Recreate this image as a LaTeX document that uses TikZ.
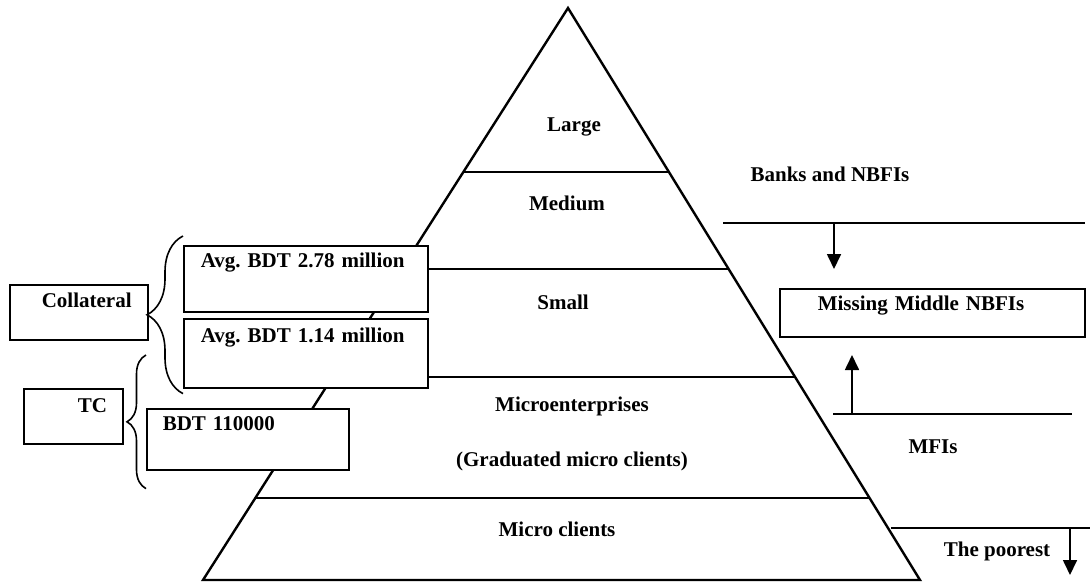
\documentclass[tikz,border=0pt]{standalone}
\usepackage{fontspec}
\setmainfont{Liberation Serif}
\usetikzlibrary{arrows.meta, calc, decorations.pathreplacing}

\begin{document}
\begin{tikzpicture}[
    x=1pt, y=-1pt,
    font=\fontsize{21}{25}\selectfont\bfseries\frenchspacing,
    edge/.style={line width=2.4pt, line join=miter},
    sep/.style={line width=1.8pt},
    lbl/.style={anchor=base, inner sep=0pt},
    tbox/.style={draw, fill=white, line width=1.6pt, anchor=north west, inner sep=0pt, align=left},
    arr/.style={line width=1.7pt, -{Triangle[length=15pt,width=14pt]}},
    curly/.style={line width=1.6pt, decorate, decoration={brace, amplitude=#1}}
  ]
    \useasboundingbox (0,0) rectangle (1090,582);

    % pyramid
    \coordinate (top) at (568,8);
    \coordinate (bl) at (203,580);
    \coordinate (br) at (920,580);
    \draw[edge] (bl) -- (top) -- (br) -- cycle;
    \foreach \t in {0.2867, 0.4563, 0.6451, 0.8566}
      \draw[sep] ($(top)!\t!(bl)$) -- ($(top)!\t!(br)$);

    \node[lbl] (large) at (574,131) {Large};
    \node[lbl] (medium) at (567,210) {Medium};
    \node[lbl] (small) at (563,309) {Small};
    \node[lbl] (micro) at (572,411) {Microenterprises};
    \node[lbl] (grad) at (572,466) {(Graduated micro clients)};
    \node[lbl] (mclients) at (557,536) {Micro clients};

    % loan size boxes
    \node[tbox, text width=244pt, text height=22pt, text depth=44pt] (avgA) at (183,245) {\hspace*{17pt}Avg. BDT 2.78 million};
    \node[tbox, text width=244pt, text height=24pt, text depth=45pt] (avgB) at (183,318) {\hspace*{17pt}Avg. BDT 1.14 million};
    \node[tbox, text width=202pt, text height=22pt, text depth=39pt] (bdt) at (146,408) {\hspace*{16pt}BDT 110000};
    \node[tbox, text width=138pt, text height=23pt, text depth=32pt] (coll) at (9,284) {\hspace*{32pt}Collateral};
    \node[tbox, text width=99pt, text height=24pt, text depth=31pt] (tc) at (23,388) {\hspace*{54pt}TC};

    % braces
    \coordinate (cb1) at ($(avgB.south west)+(0,5)$);
    \coordinate (cb2) at ($(avgA.north west)+(0,-9)$);
    \draw[curly=36pt] (cb1) -- (cb2);
    \coordinate (tb1) at ($(bdt.south west)+(0,18)$);
    \coordinate (tb2) at ($(bdt.north west)+(0,-53)$);
    \draw[curly=19pt] (tb1) -- (tb2);

    % institutions
    \node[lbl] (banks) at (830,181) {Banks and NBFIs};
    \node[tbox, text width=305pt, text height=22pt, text depth=26pt] (miss) at (779,288) {\hspace*{38pt}Missing Middle NBFIs};
    \node[lbl] (mfi) at (933,453) {MFIs};
    \node[lbl] (poor) at (997,556) {The poorest};

    \coordinate (bkL) at (723,223);
    \coordinate (bkR) at (1085,223);
    \coordinate (bkA) at (834,223);
    \coordinate (bkB) at (834,269);
    \draw[sep] (bkL) -- (bkR);
    \draw[arr] (bkA) -- (bkB);

    \coordinate (mfL) at (833,414);
    \coordinate (mfR) at (1072,414);
    \coordinate (mfA) at (852,414);
    \coordinate (mfB) at (852,355);
    \draw[sep] (mfL) -- (mfR);
    \draw[arr] (mfA) -- (mfB);

    \coordinate (poL) at (891,528);
    \coordinate (poR) at (1090,528);
    \coordinate (poA) at (1070,528);
    \coordinate (poB) at (1070,575);
    \draw[sep] (poL) -- (poR);
    \draw[arr] (poA) -- (poB);
  \end{tikzpicture}
\end{document}
